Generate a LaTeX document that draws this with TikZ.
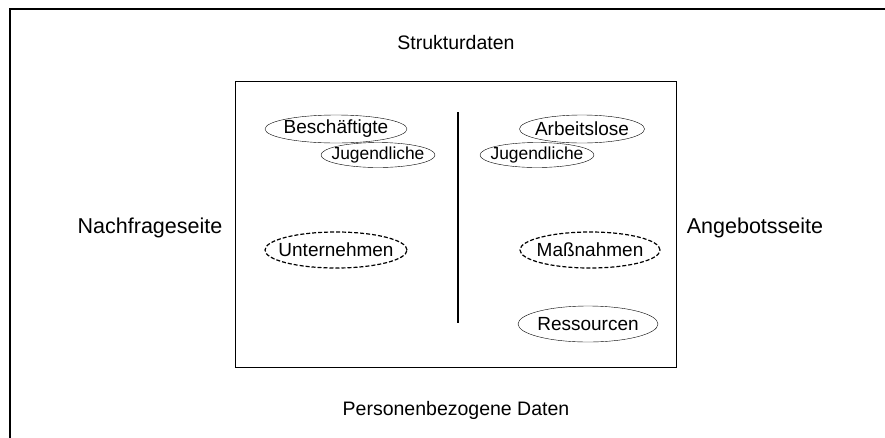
\documentclass[tikz,border=0pt]{standalone}
\usepackage{fontspec}
\setmainfont{Liberation Sans}
\usetikzlibrary{shapes.geometric}
\newcommand{\lbl}[1]{\makebox[0pt]{#1}}

\begin{document}
\begin{tikzpicture}[x=1pt,y=-1pt,
    side/.style={font=\fontsize{21.5}{25}\selectfont},
    edge label/.style={font=\fontsize{19.5}{23}\selectfont},
    topic/.style={ellipse,draw,thin,inner sep=0pt,minimum width=142pt,minimum height=28pt,font=\fontsize{19}{22}\selectfont},
    small/.style={topic,minimum width=114pt,minimum height=25pt,font=\fontsize{17.4}{20}\selectfont},
    open/.style={dash pattern=on 4pt off 2pt,line width=1.2pt}]
\useasboundingbox (0,0) rectangle (885,437);
\begin{scope}
    \clip (0,0) rectangle (885,437);
    \draw[line width=2pt] (10,9) rectangle (900,450);
\end{scope}
\draw[thin] (235,81) rectangle (676,367);

% Beschriftung aussen
\node (S)[edge label] at (456,43) {Strukturdaten};
\node (P)[edge label] at (456,410) {Personenbezogene Daten};
\node (N)[side] at (150,228) {Nachfrageseite};
\node (A)[side] at (755,228) {Angebotsseite};

% Trennlinie
\coordinate (T1) at (458,112);
\coordinate (T2) at (458,323);
\draw[line width=1.3pt] (T1) -- (T2);

\begin{scope}
    \node (B)[topic] at (336,129) {\lbl{Besch\"aftigte}};
    \node (J1)[small] at (378,155) {\lbl{Jugendliche}};
    \node (U)[topic,open,minimum height=36pt] at (336,250) {\lbl{Unternehmen}};
    \node (L)[topic,minimum width=125pt] at (582,129) {\lbl{Arbeitslose}};
    \node (J2)[small] at (537,155) {\lbl{Jugendliche}};
    \node (M)[topic,open,minimum width=140pt,minimum height=36pt] at (590,250) {\lbl{Maßnahmen}};
    \node (R)[topic,minimum width=140pt,minimum height=36pt] at (588,324) {\lbl{Ressourcen}};
\end{scope}
\end{tikzpicture}
\end{document}
